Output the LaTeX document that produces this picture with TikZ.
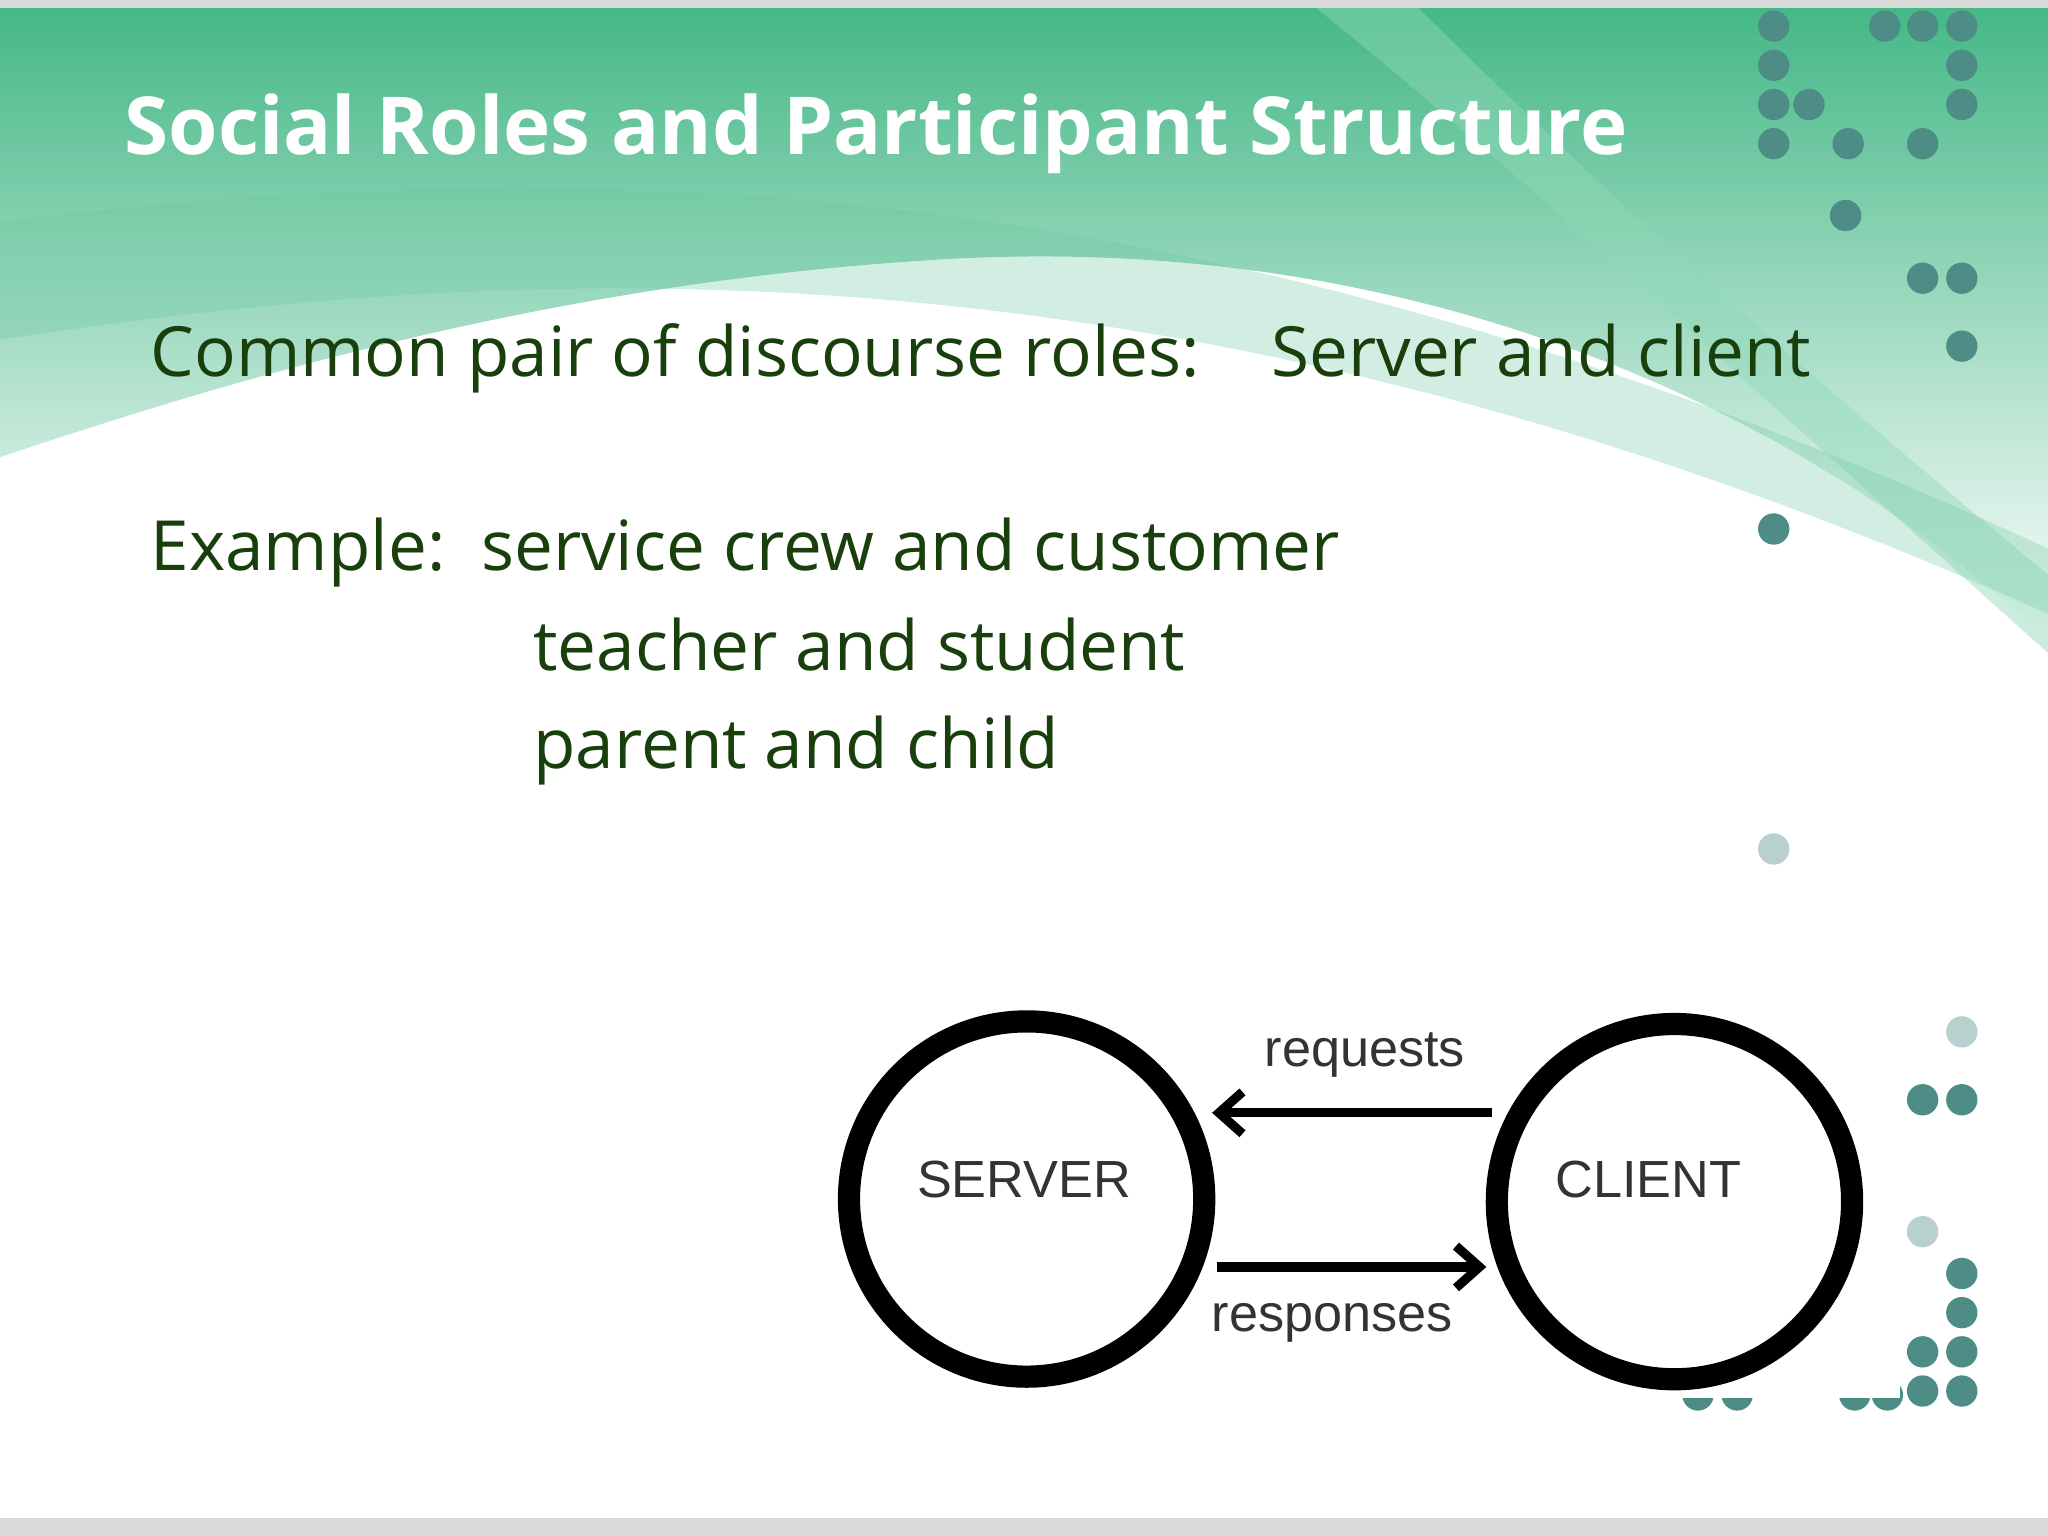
\documentclass[tikz,border=0pt]{standalone}
\usepackage{fontspec}
\setmainfont{Open Sans}
\newfontfamily\arialf{Liberation Sans}
\usetikzlibrary{arrows.meta,fadings}
\definecolor{dotc}{HTML}{4E8C86}
\definecolor{gA}{HTML}{2FB079}
\definecolor{gB}{HTML}{8FD9B8}
\definecolor{txtg}{HTML}{183F0C}
\tikzset{
  dot/.style={fill=dotc,draw=none},
  ldot/.style={fill=dotc!40,draw=none},
  ring/.style={draw=black,line width=8.5pt,circle,minimum size=136pt,inner sep=0pt},
  arr/.style={line width=3.5pt,-{Straight Barb[length=9pt,width=16pt,line width=3.5pt]}},
  lbl/.style={font=\arialf\fontsize{20}{22}\selectfont,text=black!80},
  body/.style={font=\fontsize{26.5}{30}\selectfont,text=txtg,anchor=base west,inner sep=0pt}
}
\begin{document}
\begin{tikzpicture}[x=0.5pt,y=-0.5pt]
\useasboundingbox (0,0) rectangle (1568,1176);
\fill[white] (0,0) rectangle (1568,1176);
% green swoosh
\shade[top color=gA,bottom color=white,opacity=0.9]
  (0,0) -- (1568,0) -- (1568,490) .. controls (1400,330) and (1100,170) .. (700,200)
  .. controls (400,220) and (150,300) .. (0,350) -- cycle;
\fill[gB,opacity=0.45] (1000,0) .. controls (1150,120) and (1300,260) .. (1568,500)
  -- (1568,440) .. controls (1350,260) and (1200,120) .. (1080,0) -- cycle;
\fill[gA!70,opacity=0.3] (0,170) .. controls (400,120) and (900,110) .. (1568,420)
  -- (1568,470) .. controls (900,170) and (400,200) .. (0,260) -- cycle;
\fill[black!15] (0,0) rectangle (1568,6);
\fill[black!15] (0,1162) rectangle (1568,1176);
% dots
\foreach \x/\y in {1358/20,1443/20,1472/20,1502/20,1358/50,1502/50,1358/80,1385/80,1502/80,
  1358/110,1415/110,1472/110,1413/165,1472/213,1502/213,1502/265,1358/405,
  1472/842,1502/842,1502/975,1502/1005,1472/1035,1502/1035,1472/1065,1502/1065,
  1300/1068,1330/1068,1420/1068,1445/1068}
  \fill[dot] (\x,\y) circle (12);
\foreach \x/\y in {1358/650,1502/790,1472/943}
  \fill[ldot] (\x,\y) circle (12);
% texts
\node[anchor=base west,inner sep=0pt,text=white,font=\bfseries\fontsize{30.6}{36}\selectfont] (title) at (95,118) {Social Roles and Participant Structure};
\node[body] (l1) at (115,288) {Common pair of discourse roles:};
\node[body] (l1b) at (973,288) {Server and client};
\node[body] (l2) at (115,437) {Example:};
\node[body] (l2b) at (368,437) {service crew and customer};
\node[body] (l3) at (408,513) {teacher and student};
\node[body] (l4) at (408,588) {parent and child};
% diagram
\fill[white] (613,765) rectangle (1455,1070);
\node[ring] (srv) at (786,918) {};
\node[ring] (cli) at (1282,920) {};
\node[lbl] at (784,903) {SERVER};
\node[lbl] at (1262,903) {CLIENT};
\coordinate (rqS) at (1142,852); \coordinate (rqE) at (928,852);
\coordinate (rsS) at (932,970); \coordinate (rsE) at (1138,970);
\draw[arr] (rqS) -- (rqE);
\draw[arr] (rsS) -- (rsE);
\node[lbl] (rq) at (1045,808) {requests};
\node[lbl] (rs) at (1020,1013) {responses};
\end{tikzpicture}
\end{document}
